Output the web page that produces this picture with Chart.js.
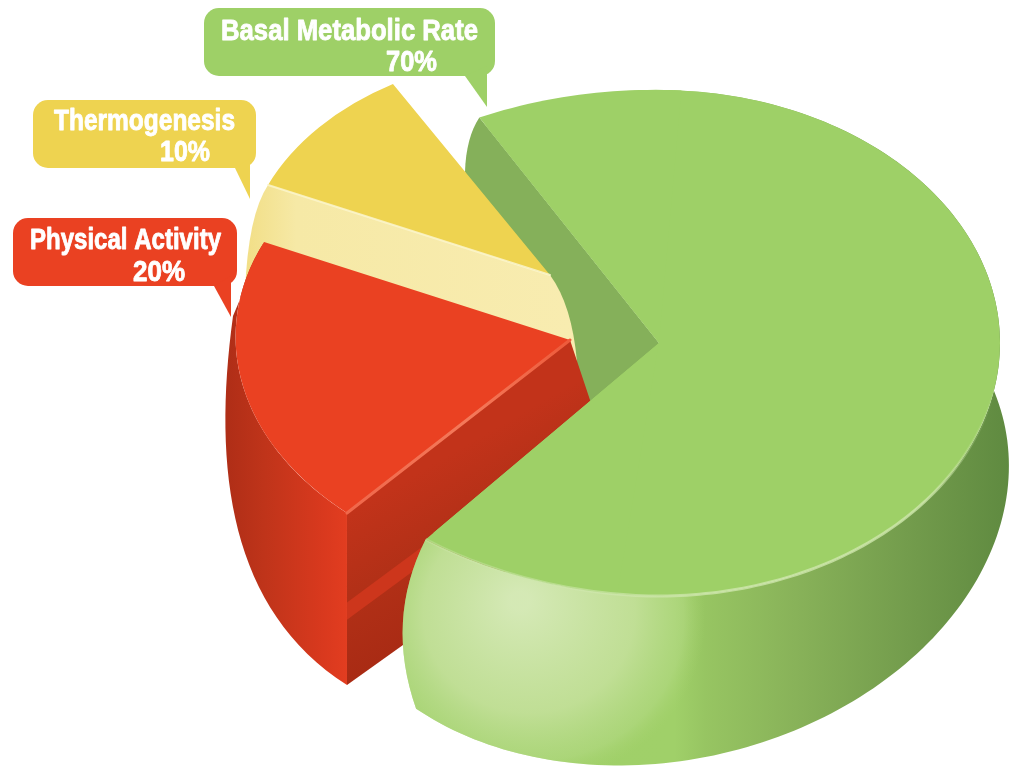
<!DOCTYPE html>
<html>
<head>
<meta charset="utf-8">
<style>html,body{margin:0;padding:0;background:#fff}canvas{display:block}</style>
<script src="https://cdn.jsdelivr.net/npm/chart.js@4"></script>
</head>
<body>
<canvas id="c" width="1012" height="766"></canvas>
<script>
const categories = ['Basal Metabolic Rate', 'Physical Activity', 'Thermogenesis'];
const shares = [70, 20, 10];
const faceColours = ['#9ed067', '#ea4122', '#eed350'];

// view projection of each pulled-apart slice: [a, b, c, d] maps the unit pie to the page, "at" places its apex
const VIEW = [
  { top: { m: [341, 0, 0, 253], at: [659, 343] }, floor: { m: [345, -15, -25, 265], at: [663, 500] } },
  { top: { m: [334.4, 5, -2.5, 235.1], at: [570, 340] } },
  { top: { m: [306.8, 2.9, 1, 220.1], at: [550, 275] } }
];
// callout styling, same order as categories
const CALLOUTS = [
  { box: [204, 8, 291, 68], tail: [[465, 76], [487, 107], [487, 66]], line1: [221, 40, 257], line2: [386, 71, 51] },
  { box: [13, 218, 224, 68], tail: [[214, 286], [231, 317], [231, 276]], line1: [30, 249, 191], line2: [133, 281, 52] },
  { box: [33, 100, 223, 68], tail: [[235, 168], [250, 199], [250, 158]], line1: [54, 130, 181], line2: [160, 161, 50] }
];

function pt(p, a) {
  const u = [Math.cos(a), Math.sin(a)];
  return [p.at[0] + p.m[0] * u[0] + p.m[2] * u[1], p.at[1] + p.m[1] * u[0] + p.m[3] * u[1]];
}
function trace(ctx, pts) {
  pts.forEach((q, i) => i ? ctx.lineTo(q[0], q[1]) : ctx.moveTo(q[0], q[1]));
}
function poly(ctx, pts) {
  ctx.beginPath();
  trace(ctx, pts);
  ctx.closePath();
}
function sweep(fn, a0, a1, n = 80) {
  const r = [];
  for (let i = 0; i <= n; i++) r.push(fn(a0 + (a1 - a0) * i / n));
  return r;
}
function linear(ctx, x0, y0, x1, y1, stops) {
  const g = ctx.createLinearGradient(x0, y0, x1, y1);
  stops.forEach(s => g.addColorStop(s[0], s[1]));
  return g;
}
function face(ctx, arc, p) {
  const R = arc.outerRadius, cx = arc.x, cy = arc.y;
  const a = p.m[0] / R, b = p.m[1] / R, c = p.m[2] / R, d = p.m[3] / R;
  ctx.save();
  ctx.transform(a, b, c, d, p.at[0] - a * cx - c * cy, p.at[1] - b * cx - d * cy);
  arc.draw(ctx);
  ctx.restore();
}
function edge(ctx, p0, p1, style, w) {
  ctx.save();
  ctx.strokeStyle = style; ctx.lineWidth = w; ctx.lineCap = 'round';
  ctx.beginPath(); ctx.moveTo(p0[0], p0[1]); ctx.lineTo(p1[0], p1[1]); ctx.stroke();
  ctx.restore();
}

const solidPie = {
  id: 'solidPie',
  beforeDatasetsDraw(chart) {
    const ctx = chart.ctx;
    const [green, red, yellow] = chart.getDatasetMeta(0).data;
    const [gv, rv, yv] = VIEW;
    const gApex = gv.top.at;
    const s = green.startAngle, e = green.endAngle, span = 0.6, flare = 0.035;
    // the rim of the green face squares off slightly towards its two cut corners
    const rimAt = a => {
      const k = 1 + flare * Math.pow(Math.max(0, 1 - (a - s) / span), 2)
                  + flare * Math.pow(Math.max(0, 1 - (e - a) / span), 2);
      const q = pt(gv.top, a);
      return [gApex[0] + (q[0] - gApex[0]) * k, gApex[1] + (q[1] - gApex[1]) * k];
    };
    const gs = rimAt(s);

    // green inner cut wall
    ctx.beginPath();
    ctx.moveTo(gs[0], gs[1]);
    ctx.lineTo(gApex[0], gApex[1]);
    ctx.lineTo(620, 500);
    ctx.lineTo(465, 172);
    ctx.quadraticCurveTo(466, 138, gs[0], gs[1]);
    ctx.closePath();
    ctx.fillStyle = '#85b05a';
    ctx.fill();

    // yellow cut wall and face
    const y0 = pt(yv.top, yellow.startAngle);
    ctx.beginPath();
    ctx.moveTo(y0[0], y0[1]);
    ctx.lineTo(yv.top.at[0], yv.top.at[1]);
    ctx.quadraticCurveTo(572, 305, 577, 362);
    ctx.lineTo(245, 292);
    ctx.quadraticCurveTo(248, 215, y0[0], y0[1]);
    ctx.closePath();
    ctx.fillStyle = linear(ctx, 248, 0, 570, 0, [[0, '#f2df88'], [0.15, '#f6e9a6'], [1, '#f8ecb0']]);
    ctx.fill();
    face(ctx, yellow, yv.top);
    edge(ctx, y0, yv.top.at, 'rgba(252,246,205,.85)', 2);

    // red outer wall
    ctx.beginPath();
    trace(ctx, sweep(a => pt(rv.top, a), red.startAngle, red.endAngle));
    ctx.lineTo(233, 316);
    ctx.bezierCurveTo(212, 470, 230, 610, 347, 685);
    ctx.closePath();
    ctx.fillStyle = linear(ctx, 228, 0, 347, 0, [[0, '#b02e17'], [0.3, '#bf341a'], [0.8, '#d9391e'], [1, '#e23d20']]);
    ctx.fill();

    // red cut wall
    const r0 = pt(rv.top, red.startAngle);
    const wallA = [r0, rv.top.at, [620, 490], [347, 685]];
    poly(ctx, wallA);
    ctx.fillStyle = linear(ctx, 347, 513, 420, 640, [[0, '#c2331a'], [0.5, '#b23017'], [1, '#a92b14']]);
    ctx.fill();
    const lerp = (p, q, t) => [p[0] + (q[0] - p[0]) * t, p[1] + (q[1] - p[1]) * t];
    poly(ctx, [lerp(wallA[0], wallA[3], 0.52), lerp(wallA[1], wallA[2], 0.52),
               lerp(wallA[1], wallA[2], 0.62), lerp(wallA[0], wallA[3], 0.62)]);
    ctx.fillStyle = '#cd361c';
    ctx.fill();
    face(ctx, red, rv.top);
    edge(ctx, r0, rv.top.at, linear(ctx, r0[0], r0[1], rv.top.at[0], rv.top.at[1],
      [[0, '#f0674a'], [0.55, '#f4795a'], [1, '#ee5a3a']]), 3);

    // green outer wall
    const gTop = sweep(rimAt, -Math.PI / 2, e, 160);
    const gFloor = sweep(a => pt(gv.floor, a), -Math.PI / 2, e, 160);
    ctx.save();
    ctx.beginPath();
    trace(ctx, gTop);
    ctx.quadraticCurveTo(385, 620, gFloor[gFloor.length - 1][0], gFloor[gFloor.length - 1][1]);
    gFloor.slice().reverse().forEach(q => ctx.lineTo(q[0], q[1]));
    ctx.closePath();
    ctx.fillStyle = linear(ctx, 400, 0, 1010, 0, [[0, '#9fd068'], [0.45, '#a0d069'], [0.5, '#97c562'],
      [0.65, '#88b259'], [0.85, '#719a4b'], [1, '#5f8a40']]);
    ctx.fill();
    ctx.clip();
    ctx.translate(535, 620);
    ctx.scale(1, 0.95);
    const hi = ctx.createRadialGradient(-15, -20, 10, 0, 0, 170);
    hi.addColorStop(0, 'rgba(215,234,185,.95)');
    hi.addColorStop(0.6, 'rgba(200,226,160,.8)');
    hi.addColorStop(0.88, 'rgba(185,220,140,.45)');
    hi.addColorStop(1, 'rgba(170,212,115,0)');
    ctx.fillStyle = hi;
    ctx.fillRect(-250, -250, 500, 500);
    ctx.restore();

    face(ctx, green, gv.top);
    ctx.fillStyle = faceColours[0];
    poly(ctx, [gApex].concat(sweep(rimAt, s, s + span, 24)));
    ctx.fill();
    poly(ctx, [gApex].concat(sweep(rimAt, e - span, e, 24)));
    ctx.fill();

    // rim light on the green face
    ctx.save();
    ctx.beginPath();
    trace(ctx, sweep(rimAt, 0.05, e, 120));
    ctx.lineWidth = 3;
    ctx.strokeStyle = linear(ctx, 995, 0, 420, 0, [[0, 'rgba(205,230,170,0)'], [0.12, 'rgba(205,230,170,.8)'],
      [0.5, 'rgba(210,232,178,.75)'], [1, 'rgba(205,230,170,.35)']]);
    ctx.stroke();
    ctx.restore();
    return false;
  },
  afterDraw(chart) {
    const ctx = chart.ctx;
    const family = '"Liberation Sans Narrow","Liberation Sans",Arial,sans-serif';
    const fitted = (text, spec) => {
      ctx.save();
      ctx.font = 'bold 30px ' + family;
      ctx.textBaseline = 'alphabetic';
      ctx.textAlign = 'left';
      const w = ctx.measureText(text).width;
      ctx.translate(spec[0], spec[1]);
      ctx.scale(spec[2] / w, 1);
      ctx.fillStyle = '#ffffff';
      ctx.strokeStyle = '#ffffff';
      ctx.lineWidth = 0.9;
      ctx.lineJoin = 'round';
      ctx.strokeText(text, 0, 0);
      ctx.fillText(text, 0, 0);
      ctx.restore();
    };
    CALLOUTS.forEach((c, i) => {
      ctx.fillStyle = faceColours[i];
      ctx.beginPath();
      ctx.roundRect(c.box[0], c.box[1], c.box[2], c.box[3], 15);
      ctx.fill();
      poly(ctx, c.tail);
      ctx.fill();
      fitted(categories[i], c.line1);
      fitted(shares[i] + '%', c.line2);
    });
  }
};

new Chart(document.getElementById('c'), {
  type: 'pie',
  data: {
    labels: categories,
    datasets: [{ data: shares, backgroundColor: faceColours, borderWidth: 0 }]
  },
  options: {
    responsive: false,
    animation: false,
    rotation: -30.6,
    layout: { padding: 33 },
    plugins: { legend: { display: false }, tooltip: { enabled: false } }
  },
  plugins: [solidPie]
});
</script>
</body>
</html>
